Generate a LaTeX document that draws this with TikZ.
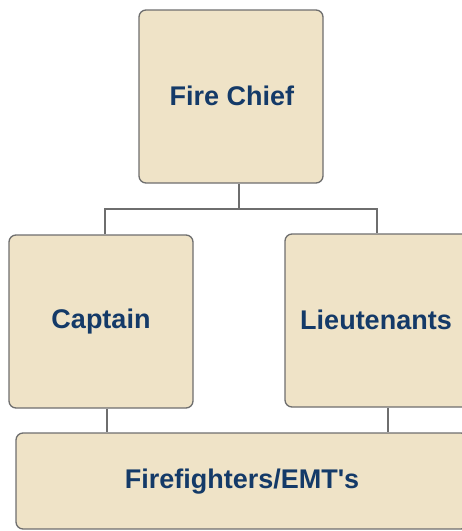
\documentclass[tikz,border=0pt]{standalone}
\usepackage{fontspec}
\setmainfont{Liberation Sans}
\definecolor{boxfill}{HTML}{EFE3C7}
\definecolor{boxline}{HTML}{6E6E6E}
\definecolor{navy}{HTML}{143A68}
\begin{document}
\begin{tikzpicture}[x=1pt,y=-1pt,
  orgbox/.style={draw=boxline, line width=1.3pt, fill=boxfill, rounded corners=7pt, inner sep=0pt},
  label/.style={text=navy, font=\fontsize{27}{31}\selectfont\bfseries, inner sep=0pt},
  link/.style={draw=boxline, line width=1.3pt}]
\useasboundingbox (0,0) rectangle (462,531);
\clip (0,0) rectangle (462,531);
\node[orgbox, minimum width=184pt, minimum height=173pt] (chief) at (231,96.5) {};
\node[label] (chieft) at (232,96) {Fire Chief};
\node[orgbox, minimum width=184pt, minimum height=173pt] (captain) at (101,321.5) {};
\node[label] (captaint) at (101,322) {Captain};
\node[orgbox, minimum width=184pt, minimum height=173pt] (lieut) at (377,320.5) {};
\node[label] (lieutt) at (376,320) {Lieutenants};
\node[orgbox, minimum width=452pt, minimum height=96pt] (ff) at (242,481) {};
\node[label] (fft) at (242,482) {Firefighters/EMT\textquotesingle s};
\coordinate (bus) at (239,209);
\draw[link] ([xshift=8pt]chief.south) -- ([xshift=8pt]chief.south |- bus);
\draw[link] ([xshift=4pt]captain.north) |- (bus) -| (lieut.north);
\draw[link] ([xshift=6pt]captain.south) -- ([xshift=6pt]captain.south |- ff.north);
\draw[link] ([xshift=11pt]lieut.south) -- ([xshift=11pt]lieut.south |- ff.north);
\end{tikzpicture}
\end{document}
